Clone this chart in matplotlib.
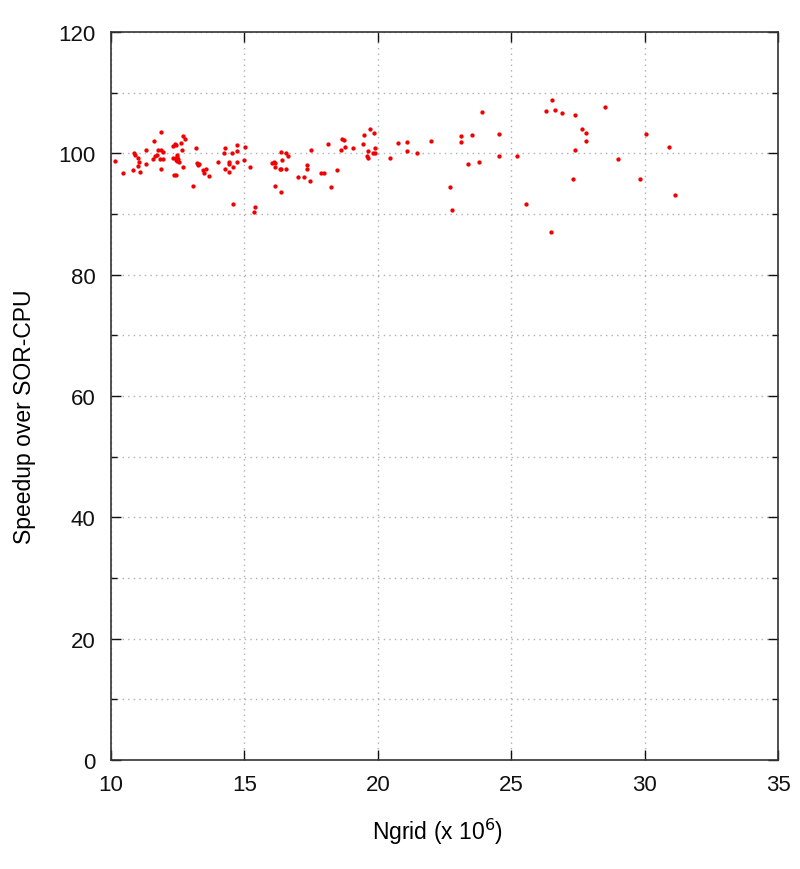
#!/usr/bin/env python3
"""Speedup over SOR-CPU vs grid size (gnuplot-style scatter)."""

import matplotlib
matplotlib.use("Agg")
import matplotlib.pyplot as plt
from matplotlib.ticker import MultipleLocator

plt.rcParams["font.family"] = ["Liberation Sans", "DejaVu Sans"]

# grid size in units of 10^6
ngrid = [
    10.15, 10.45, 10.86, 10.9, 11.0, 11.06, 11.01, 10.84, 11.08, 11.32,
    11.32, 11.62, 11.87, 11.59, 11.64, 11.74, 11.77, 11.89, 11.96, 11.84,
    11.94, 11.87, 12.34, 12.39, 12.46, 12.62, 12.69, 12.79, 12.67, 12.49,
    12.34, 12.45, 12.48, 12.52, 12.44, 12.55, 12.48, 12.72, 12.37, 12.44,
    13.2, 13.22, 13.3, 13.25, 13.57, 13.46, 13.5, 13.67, 13.07, 14.02,
    14.27, 14.25, 14.42, 14.42, 14.52, 14.27, 14.42, 14.57, 14.72, 14.72,
    15.02, 14.72, 14.97, 15.23, 14.57, 15.4, 15.36,
    16.03, 16.1, 16.15, 16.15, 16.33, 16.38, 16.55, 16.38, 16.57, 16.62,
    16.4, 16.15, 16.38, 17.0, 17.23, 17.35, 17.35, 17.45, 17.5, 17.86,
    18.0, 18.13, 18.23, 18.48, 18.66, 18.73, 18.61, 18.76, 19.06, 19.46,
    19.49, 19.71, 19.86, 19.64, 19.91, 19.83, 19.88, 19.59, 19.64, 20.44,
    20.76, 21.09, 21.09, 21.47, 21.99,
    23.9, 23.12, 23.52, 23.12, 24.55, 23.39, 23.8, 24.55, 25.2, 22.72,
    22.77, 25.55, 26.5, 26.3, 26.53, 26.63, 26.88, 27.4, 27.65, 27.78,
    27.78, 27.4, 27.3, 28.5,
    30.04, 30.89, 29.0, 29.83, 31.11,
]
speedup = [
    98.7, 96.7, 100.0, 99.8, 99.3, 98.6, 97.95, 97.3, 96.9, 100.5,
    98.2, 102.1, 103.5, 99.1, 99.5, 99.8, 100.6, 100.5, 100.3, 99.0,
    99.0, 97.5, 101.2, 101.5, 101.4, 101.7, 102.8, 102.4, 100.5, 99.75,
    99.2, 99.3, 98.8, 99.1, 98.9, 98.6, 99.4, 97.7, 96.4, 96.4,
    100.95, 98.4, 98.3, 98.1, 97.5, 97.2, 96.8, 96.3, 94.6, 98.6,
    100.85, 100.1, 98.6, 98.2, 100.0, 97.4, 97.0, 97.7, 101.3, 100.45,
    101.0, 98.6, 98.85, 97.7, 91.6, 91.1, 90.4,
    98.4, 98.5, 98.4, 97.8, 97.5, 97.4, 97.4, 100.2, 100.0, 99.6,
    98.9, 94.6, 93.7, 96.15, 96.15, 98.1, 97.5, 95.5, 100.6, 96.8,
    96.8, 101.5, 94.5, 97.2, 102.4, 102.2, 100.6, 101.1, 100.85, 101.5,
    103.0, 104.0, 103.4, 100.4, 100.95, 100.1, 100.1, 99.5, 99.3, 99.2,
    101.7, 101.8, 100.4, 100.1, 102.0,
    106.8, 102.9, 103.0, 101.8, 103.2, 98.3, 98.65, 99.5, 99.5, 94.45,
    90.6, 91.7, 87.0, 107.0, 108.8, 107.1, 106.6, 106.4, 104.0, 103.3,
    102.0, 100.5, 95.8, 107.6,
    103.2, 101.0, 99.0, 95.8, 93.1,
]

fig = plt.figure(figsize=(8.0, 8.7), dpi=100)
ax = fig.add_axes([0.1385, 0.1253, 0.8345, 0.8367])

ax.plot(ngrid, speedup, linestyle="none", marker="o", markersize=3.1,
        color="#f00000", markeredgewidth=0)

ax.set_xlim(10, 35)
ax.set_ylim(0, 120)
ax.xaxis.set_major_locator(MultipleLocator(5))
ax.yaxis.set_major_locator(MultipleLocator(20))
ax.yaxis.set_minor_locator(MultipleLocator(10))

ax.grid(True, which="both", axis="y", linestyle=(0, (1, 3)), color="#b0b0b0",
        linewidth=1.0)
ax.grid(True, which="major", axis="x", linestyle=(0, (1, 3)), color="#b0b0b0",
        linewidth=1.0)
ax.set_axisbelow(True)

ax.tick_params(which="both", direction="in", top=True, right=True,
               labelsize=16, colors="#111111")
ax.tick_params(axis="y", which="both", pad=11)
ax.tick_params(axis="x", which="both", pad=10)
ax.tick_params(which="major", length=7, width=1.0)
ax.tick_params(which="minor", length=4, width=1.0)
for s in ax.spines.values():
    s.set_linewidth(1.2)
    s.set_color("#333333")

ax.set_xlabel(r"Ngrid (x 10$^{6}$)", fontsize=16.5, va="center")
ax.xaxis.set_label_coords(0.49, -0.098)
ax.set_ylabel("Speedup over SOR-CPU", fontsize=16.5, va="center")
ax.yaxis.set_label_coords(-0.13, 0.473)

fig.savefig("out.png", dpi=100)
